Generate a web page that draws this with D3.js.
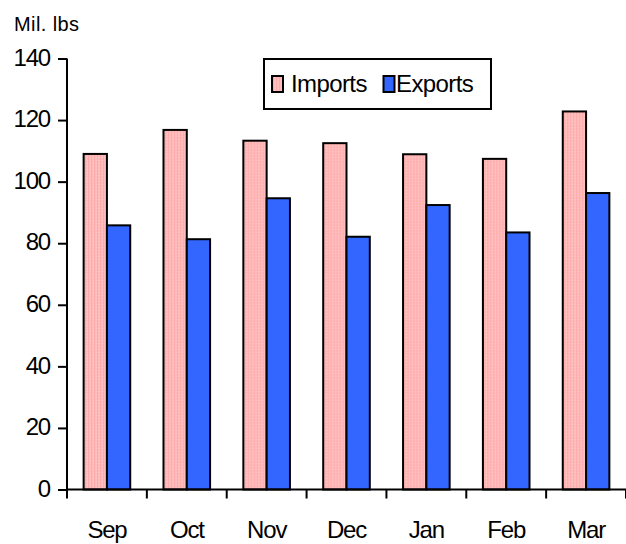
<!DOCTYPE html>
<html>
<head>
<meta charset="utf-8">
<script src="https://cdn.jsdelivr.net/npm/d3@7"></script>
<style>
  html, body { margin: 0; padding: 0; background: #fff; }
  svg { display: block; font-family: "Liberation Sans", Arial, sans-serif; }
</style>
</head>
<body>
<svg id="chart" width="626" height="544"></svg>
<script>
const months = ["Sep", "Oct", "Nov", "Dec", "Jan", "Feb", "Mar"];
const seriesNames = ["Imports", "Exports"];
const imports = [109, 116.8, 113.3, 112.5, 108.9, 107.4, 122.8];
const exports_ = [85.8, 81.3, 94.6, 82.1, 92.4, 83.5, 96.3];
const yTicks = [0, 20, 40, 60, 80, 100, 120, 140];
const yLabel = "Mil. lbs";

(function () {
const svg = d3.select("#chart");
const defs = svg.append("defs");
const pat = defs.append("pattern").attr("id", "pinkPat")
  .attr("patternUnits", "userSpaceOnUse").attr("width", 3).attr("height", 3);
pat.append("rect").attr("width", 3).attr("height", 3).attr("fill", "#ffbaba");
pat.append("rect").attr("x", 0).attr("width", 1).attr("height", 3).attr("fill", "#ffaaaa");
pat.append("rect").attr("x", 2).attr("y", 1).attr("width", 1).attr("height", 1).attr("fill", "#ffcaca");

const colors = { Imports: "url(#pinkPat)", Exports: "#3366ff" };

const mLeft = 67, mRight = 626, mTop = 58.5, mBottom = 489.5;
const x0 = d3.scaleBand().domain(months).range([mLeft, mRight]).paddingInner(0).paddingOuter(0);
const x1 = d3.scaleBand().domain(seriesNames).range([0, x0.bandwidth()]).paddingInner(0).paddingOuter(0.714);
const y = d3.scaleLinear().domain([0, 140]).range([mBottom, mTop]);

const data = months.map((m, i) => ({ month: m, Imports: imports[i], Exports: exports_[i] }));

// bars
const groups = svg.append("g").selectAll("g").data(data).join("g")
  .attr("transform", d => `translate(${x0(d.month)},0)`);
groups.selectAll("rect").data(d => seriesNames.map(k => ({ key: k, value: d[k] }))).join("rect")
  .attr("x", d => x1(d.key))
  .attr("y", d => y(d.value))
  .attr("width", x1.bandwidth())
  .attr("height", d => y(0) - y(d.value))
  .attr("fill", d => colors[d.key])
  .attr("stroke", "#000")
  .attr("stroke-width", 2);

// y axis
const yAxis = svg.append("g").attr("transform", `translate(${mLeft},0)`)
  .call(d3.axisLeft(y).tickValues(yTicks).tickSize(9).tickPadding(8).tickFormat(d3.format("d")));
yAxis.select(".domain").attr("stroke", "#000").attr("stroke-width", 2).attr("d", `M0,${mTop}V${mBottom}`);
yAxis.selectAll(".tick line").attr("stroke", "#000").attr("stroke-width", 2);
yAxis.selectAll(".tick text").attr("font-size", 24).attr("fill", "#000")
  .attr("letter-spacing", -1.2).attr("dy", "0.28em")
  .attr("font-family", "'Liberation Sans', Arial, sans-serif");

// x axis
const xAxis = svg.append("g").attr("transform", `translate(0,${mBottom})`)
  .call(d3.axisBottom(x0).tickSize(0).tickPadding(31));
xAxis.select(".domain").attr("stroke", "#000").attr("stroke-width", 2).attr("d", `M${mLeft},0H${mRight}`);
xAxis.selectAll(".tick text").attr("font-size", 24).attr("fill", "#000")
  .attr("letter-spacing", -1.2)
  .attr("font-family", "'Liberation Sans', Arial, sans-serif");
const boundaries = months.map(m => x0(m)).concat([x0(months[months.length - 1]) + x0.bandwidth()]);
xAxis.selectAll("line.sep").data(boundaries).join("line").attr("class", "sep")
  .attr("x1", d => d).attr("x2", d => d).attr("y1", 0).attr("y2", 9)
  .attr("stroke", "#000").attr("stroke-width", 2);

// y label
svg.append("text").attr("x", 14).attr("y", 31).attr("font-size", 20)
  .attr("letter-spacing", 0.4).attr("fill", "#000").text(yLabel);

// legend
const lg = svg.append("g");
lg.append("rect").attr("x", 264).attr("y", 59).attr("width", 227).attr("height", 50)
  .attr("fill", "#fff").attr("stroke", "#000").attr("stroke-width", 2);
const legendItems = [
  { key: "Imports", sx: 272, tx: 291 },
  { key: "Exports", sx: 383.5, tx: 396 }
];
legendItems.forEach(it => {
  lg.append("rect").attr("x", it.sx).attr("y", 76).attr("width", 11).attr("height", 16)
    .attr("fill", colors[it.key]).attr("stroke", "#000").attr("stroke-width", 2);
  lg.append("text").attr("x", it.tx).attr("y", 91.5).attr("font-size", 24)
    .attr("letter-spacing", -0.6).attr("fill", "#000").text(it.key);
});
})();
</script>
</body>
</html>
